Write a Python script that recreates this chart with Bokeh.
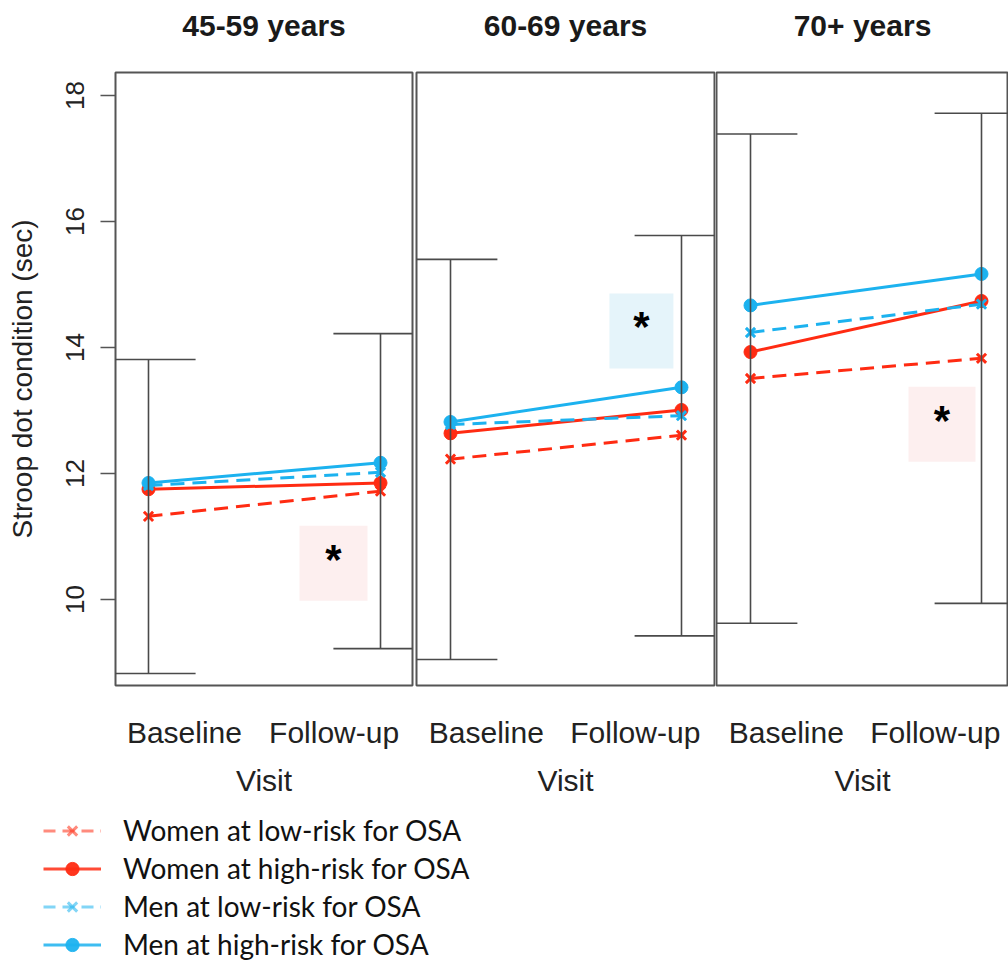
from bokeh.plotting import figure
from bokeh.layouts import column, row
from bokeh.models import Range1d, FixedTicker, Legend, LegendItem, ColumnDataSource
from bokeh.embed import file_html
from bokeh.resources import INLINE
from bokeh.core.properties import value

# ---------------- data ----------------
age_groups = ["45-59 years", "60-69 years", "70+ years"]
visits = ["Baseline", "Follow-up"]
visit_x = [1, 2]

women_low = [[11.32, 11.72], [12.26, 12.64], [13.54, 13.86]]
women_high = [[11.75, 11.85], [12.67, 13.04], [13.96, 14.77]]
men_low = [[11.81, 12.02], [12.81, 12.95], [14.27, 14.72]]
men_high = [[11.85, 12.17], [12.85, 13.40], [14.70, 15.20]]

err_low = [[8.825, 9.22], [9.08, 9.455], [9.655, 9.97]]
err_high = [[13.81, 14.22], [15.43, 15.81], [17.42, 17.75]]

y_ticks = [10, 12, 14, 16, 18]

# significance marks: (left, right, bottom, top, group colour)
sig_boxes = [
    (1.651, 1.944, 9.98, 11.17, "women"),
    (1.688, 1.965, 13.70, 14.89, "men"),
    (1.684, 1.974, 12.22, 13.41, "women"),
]

series_labels = [
    "Women at low-risk for OSA",
    "Women at high-risk for OSA",
    "Men at low-risk for OSA",
    "Men at high-risk for OSA",
]

# ---------------- styles ----------------
RED = "#FF2B12"
BLUE = "#1CB2EF"
SIG_FILL = {"women": "#FDEFEF", "men": "#E5F4FA"}
FRAME = "#555555"
ERR = "#4a4a4a"
FONT = "Liberation Sans"

series = [
    (women_low, RED, "dashed", "x"),
    (women_high, RED, "solid", "circle"),
    (men_low, BLUE, "dashed", "x"),
    (men_high, BLUE, "solid", "circle"),
]
DASH = "14 8"
CAP = 0.203
FRAME_H = 613
TITLE_H = 50

x_ranges = [(0.8578, 2.1379), (0.8528, 2.1429), (0.8528, 2.1169)]
y_ranges = [(8.635, 18.365), (8.667, 18.397), (8.667, 18.397)]
frame_widths = [297, 298, 292]
borders = [  # left, right, top, bottom
    (115, 2, 72 - TITLE_H, 115),
    (2, 1, 70 - TITLE_H, 117),
    (1, 0, 70 - TITLE_H, 117),
]
label_ticks = [1.155, 1.80]


def bare_figure(w, h):
    f = figure(width=w, height=h, x_range=Range1d(0, 1), y_range=Range1d(0, 1),
               output_backend="svg", toolbar_location=None,
               x_axis_location=None, y_axis_location=None,
               min_border_left=0, min_border_right=0, min_border_top=0, min_border_bottom=0)
    f.outline_line_color = None
    f.xgrid.visible = False
    f.ygrid.visible = False
    return f


panels = []
titles = []
for i in range(3):
    bl, br, bt, bb = borders[i]
    p = figure(
        frame_width=frame_widths[i], frame_height=FRAME_H,
        min_border_left=bl, min_border_right=br, min_border_top=bt, min_border_bottom=bb,
        x_range=Range1d(*x_ranges[i]), y_range=Range1d(*y_ranges[i]),
        output_backend="svg", toolbar_location=None,
        y_axis_location="left" if i == 0 else None,
        background_fill_color="white", border_fill_color="white",
    )
    p.xgrid.visible = False
    p.ygrid.visible = False
    p.outline_line_color = FRAME
    p.outline_line_width = 2

    # x axis
    xa = p.xaxis[0]
    xa.ticker = FixedTicker(ticks=label_ticks)
    xa.major_label_overrides = {label_ticks[0]: visits[0], label_ticks[1]: visits[1]}
    xa.axis_line_color = None
    xa.major_tick_line_color = None
    xa.minor_tick_line_color = None
    xa.major_tick_out = 0
    xa.major_tick_in = 0
    xa.major_label_standoff = 30
    xa.major_label_text_font = FONT
    xa.major_label_text_font_size = "30px"
    xa.major_label_text_color = "#222222"
    xa.axis_label = "Visit"
    xa.axis_label_text_font = FONT
    xa.axis_label_text_font_size = "30px"
    xa.axis_label_text_font_style = "normal"
    xa.axis_label_text_color = "#222222"
    xa.axis_label_standoff = 12

    if i == 0:
        ya = p.yaxis[0]
        ya.ticker = FixedTicker(ticks=y_ticks)
        ya.major_label_orientation = "vertical"
        ya.axis_line_color = None
        ya.major_tick_out = 15
        ya.major_tick_in = 0
        ya.major_tick_line_color = FRAME
        ya.major_tick_line_width = 1.5
        ya.minor_tick_line_color = None
        ya.major_label_standoff = 16
        ya.major_label_text_font = FONT
        ya.major_label_text_font_size = "26px"
        ya.major_label_text_color = "#222222"
        ya.axis_label = "Stroop dot condition (sec)"
        ya.axis_label_text_font = FONT
        ya.axis_label_text_font_size = "28px"
        ya.axis_label_text_font_style = "normal"
        ya.axis_label_text_color = "#222222"
        ya.axis_label_standoff = 26

    # significance box
    l, r, b, t, grp = sig_boxes[i]
    p.quad(left=[l], right=[r], bottom=[b], top=[t], fill_color=SIG_FILL[grp], line_color=None)

    # series lines and markers
    for vals, col, dash, mk in series:
        src = ColumnDataSource(dict(x=visit_x, y=vals[i]))
        p.line("x", "y", source=src, line_color=col, line_width=3, line_dash=dash if dash == "solid" else DASH)
        if mk == "circle":
            p.scatter("x", "y", source=src, marker="circle", size=13, fill_color=col, line_color=col)
        else:
            p.scatter("x", "y", source=src, marker="x", size=13, line_color=col, line_width=3)

    # error bars
    lo = err_low[i]
    hi = err_high[i]
    p.segment(x0=visit_x, x1=visit_x, y0=lo, y1=hi, line_color=ERR, line_width=1.6)
    p.segment(x0=[v - CAP for v in visit_x], x1=[v + CAP for v in visit_x], y0=hi, y1=hi,
              line_color=ERR, line_width=1.6)
    p.segment(x0=[v - CAP for v in visit_x], x1=[v + CAP for v in visit_x], y0=lo, y1=lo,
              line_color=ERR, line_width=1.6)

    # asterisk
    p.text(x=[(l + r) / 2], y=[(b + t) / 2], text=["*"], text_align="center", text_baseline="middle",
           y_offset=-4, text_font=value(FONT), text_font_size="42px", text_font_style="bold",
           text_color="black")

    panels.append(p)

    # panel title strip (same width as the panel, title centred over its frame)
    fig_w = bl + frame_widths[i] + br
    tf = bare_figure(fig_w, TITLE_H)
    tf.x_range = Range1d(0, fig_w)
    tf.text(x=[bl + frame_widths[i] / 2], y=[0.5], text=[age_groups[i]], text_align="center",
            text_baseline="middle", text_font=value(FONT), text_font_size="30px",
            text_font_style="bold", text_color="#1a1a1a")
    titles.append(tf)

# ---------------- legend figure ----------------
lf = bare_figure(1008, 162)

nan = float("nan")
leg_alpha = [0.55, 0.85, 0.55, 0.85]
items = []
for k, (vals, col, dash, mk) in enumerate(series):
    src = ColumnDataSource(dict(x=[nan], y=[nan]))
    lr = lf.line("x", "y", source=src, line_color=col, line_width=3, line_alpha=leg_alpha[k],
                 line_dash="12 7" if dash == "dashed" else "solid")
    if mk == "circle":
        sr = lf.scatter("x", "y", source=src, marker="circle", fill_color=col, line_color=col,
                        fill_alpha=leg_alpha[k] + 0.1, line_alpha=leg_alpha[k] + 0.1)
    else:
        sr = lf.scatter("x", "y", source=src, marker="x", line_color=col, line_width=3,
                        line_alpha=leg_alpha[k])
    items.append(LegendItem(label=series_labels[k], renderers=[lr, sr]))

legend = Legend(items=items, location=(43, 1), orientation="vertical",
                glyph_width=58, glyph_height=33, label_height=33, spacing=4,
                label_standoff=22, padding=0, margin=0,
                label_text_font="Lato", label_text_font_size="28px", label_text_color="#111111",
                border_line_color=None, background_fill_alpha=0)
lf.add_layout(legend)

layout = column(row(*titles), row(*panels), lf)
open("out.html", "w").write(file_html(layout, INLINE))
